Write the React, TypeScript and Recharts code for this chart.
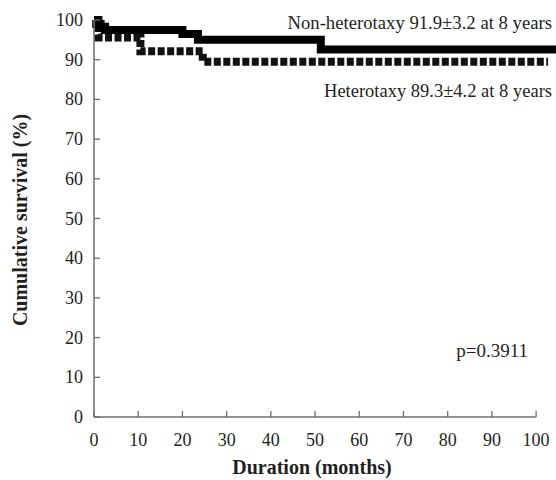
import React from "react";
import { LineChart, Line, XAxis, YAxis, ReferenceLine, Customized } from "recharts";

const nonHeteroMonths = [0, 0.5, 1.5, 2.5, 20, 23.5, 51.3, 104.5];
const nonHeteroSurvival = [100, 99, 98.3, 97.5, 96.5, 95, 92.6, 92.6];
const heteroMonths = [0, 1, 10.5, 24.6, 102.7];
const heteroSurvival = [100, 95.6, 92.1, 89.5, 89.5];
const xTicks = [0, 10, 20, 30, 40, 50, 60, 70, 80, 90, 100];
const yTicks = [0, 10, 20, 30, 40, 50, 60, 70, 80, 90, 100];

const nonHeteroData = nonHeteroMonths.map((m, i) => ({ month: m, survival: nonHeteroSurvival[i] }));
const heteroData = heteroMonths.map((m, i) => ({ month: m, survival: heteroSurvival[i] }));

const FONT = '"Liberation Serif", "DejaVu Serif", serif';
const TEXT = "#231f20";
const AXIS = "#6d6e71";

const XTick = (props: any) => {
  const { x, y, payload } = props;
  return (
    <g>
      <line x1={x} y1={y} x2={x} y2={y - 6} stroke={AXIS} strokeWidth={1.3} />
      <text x={x} y={y + 29} textAnchor="middle" fontFamily={FONT} fontSize={18} fill={TEXT}>
        {payload.value}
      </text>
    </g>
  );
};

const YTick = (props: any) => {
  const { x, y, payload } = props;
  return (
    <g>
      <line x1={x} y1={y} x2={x + 6} y2={y} stroke={AXIS} strokeWidth={1.3} />
      <text x={x - 11} y={y + 6} textAnchor="end" fontFamily={FONT} fontSize={18} fill={TEXT}>
        {payload.value}
      </text>
    </g>
  );
};

const Annotations = () => (
  <g fontFamily={FONT} fill={TEXT}>
    <text x={552} y={29} textAnchor="end" fontSize={18.7}>
      Non-heterotaxy 91.9±3.2 at 8 years
    </text>
    <text x={552} y={97} textAnchor="end" fontSize={18.5}>
      Heterotaxy 89.3±4.2 at 8 years
    </text>
    <text x={528} y={357} textAnchor="end" fontSize={19}>
      p=0.3911
    </text>
    <text x={312} y={474} textAnchor="middle" fontSize={20} fontWeight="bold">
      Duration (months)
    </text>
    <text
      x={22}
      y={220}
      textAnchor="middle"
      fontSize={20}
      fontWeight="bold"
      transform="rotate(-90 22 220)"
      dominantBaseline="middle"
    >
      Cumulative survival (%)
    </text>
  </g>
);

export default function App() {
  return (
    <div style={{ position: "absolute", left: 0, top: 0, background: "#fff" }}>
      <LineChart width={556} height={480} margin={{ top: 20, right: 0, bottom: 0, left: 0 }}>
        <XAxis
          type="number"
          dataKey="month"
          domain={[0, 104.5]}
          ticks={xTicks}
          axisLine={false}
          tickLine={false}
          tickSize={0}
          tickMargin={0}
          height={63}
          tick={<XTick />}
          interval={0}
        />
        <YAxis
          type="number"
          dataKey="survival"
          domain={[0, 100]}
          ticks={yTicks}
          width={94}
          axisLine={{ stroke: AXIS, strokeWidth: 1.5 }}
          tickLine={false}
          tickSize={0}
          tickMargin={0}
          tick={<YTick />}
          interval={0}
        />
        <ReferenceLine
          segment={[
            { x: 0, y: 0 },
            { x: 100, y: 0 },
          ]}
          stroke={AXIS}
          strokeWidth={1.5}
        />
        <Line
          data={heteroData}
          dataKey="survival"
          type="stepAfter"
          stroke="#111"
          strokeWidth={8}
          strokeDasharray="7 2.5"
          dot={false}
          isAnimationActive={false}
        />
        <Line
          data={nonHeteroData}
          dataKey="survival"
          type="stepAfter"
          stroke="#000"
          strokeWidth={8}
          dot={false}
          isAnimationActive={false}
        />
        <Customized component={Annotations} />
      </LineChart>
    </div>
  );
}
